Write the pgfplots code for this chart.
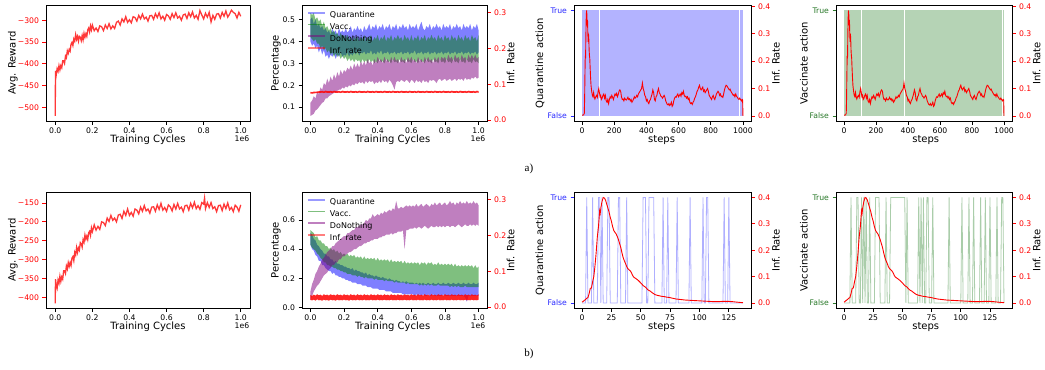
\documentclass[border=0pt]{standalone}
\usepackage{fontspec}
\setmainfont{DejaVu Sans}
\newfontfamily\capfont{Liberation Serif}
\usepackage{pgfplots}
\usepackage{pgfplotstable}
\usepgfplotslibrary{fillbetween}
\pgfplotsset{compat=1.18}

\definecolor{rline}{RGB}{255,45,45}
\definecolor{qblue}{RGB}{0,0,255}
\definecolor{vgreen}{RGB}{0,128,0}
\definecolor{dpurple}{RGB}{128,0,128}
\definecolor{qfill}{RGB}{179,179,255}
\definecolor{vfill}{RGB}{181,211,181}
\definecolor{qtick}{RGB}{40,40,255}
\definecolor{vtick}{RGB}{40,120,40}
\definecolor{qstep}{RGB}{175,175,255}
\definecolor{vstep}{RGB}{170,205,170}

\newcommand\tkf{\fontsize{7.7}{9}\selectfont}
\newcommand\lbf{\fontsize{10}{12}\selectfont}
\newcommand\lgf{\fontsize{8}{9.5}\selectfont}

\pgfplotsset{
 mpl/.style={
   scale only axis, anchor=south west,
   axis line style={line width=0.8pt,black},
   tick align=outside, major tick length=3.5pt,
   every tick/.style={black,line width=0.8pt},
   tick label style={font=\tkf},
   label style={font=\lbf},
   tick pos=left,
 },
 twinR/.style={
   scale only axis, anchor=south west,
   axis x line=none, axis y line*=right,
   axis line style={line width=0.8pt,black},
   tick align=outside, major tick length=3.5pt,
   every tick/.style={red,line width=0.8pt},
   tick label style={font=\tkf},
   yticklabel style={text=red},
   label style={font=\lbf},
 },
 xlab/.style={every axis x label/.style={at={(axis description cs:#1,-0.16)},anchor=center}},
 ylab/.style={every axis y label/.style={at={(axis description cs:#1,0.5)},rotate=90,anchor=center}},
}

\pgfplotstableread{
x y
0.000 -519
0.001 -416
0.005 -426
0.010 -411
0.015 -417
0.020 -404
0.025 -414
0.030 -404
0.035 -409
0.040 -393
0.045 -393
0.050 -399
0.055 -382
0.060 -386
0.065 -370
0.070 -376
0.075 -367
0.080 -371
0.085 -355
0.090 -351
0.095 -358
0.100 -343
0.105 -348
0.110 -333
0.115 -344
0.120 -337
0.125 -348
0.130 -337
0.135 -339
0.140 -347
0.145 -335
0.150 -345
0.155 -330
0.160 -339
0.165 -331
0.170 -337
0.175 -322
0.180 -318
0.185 -327
0.190 -313
0.195 -322
0.200 -311
0.21 -324
0.22 -318
0.23 -326
0.24 -313
0.25 -315
0.26 -324
0.27 -311
0.28 -319
0.29 -308
0.30 -320
0.31 -313
0.32 -319
0.33 -305
0.34 -302
0.35 -311
0.36 -297
0.37 -304
0.38 -292
0.39 -305
0.40 -299
0.41 -306
0.42 -292
0.43 -294
0.44 -302
0.45 -289
0.46 -297
0.47 -286
0.48 -297
0.49 -293
0.50 -302
0.51 -290
0.52 -289
0.53 -298
0.54 -285
0.55 -294
0.56 -283
0.57 -297
0.58 -291
0.59 -300
0.60 -287
0.61 -290
0.62 -298
0.63 -285
0.64 -294
0.65 -283
0.66 -295
0.67 -291
0.68 -300
0.69 -288
0.70 -286
0.71 -296
0.72 -283
0.73 -292
0.74 -281
0.75 -295
0.76 -289
0.77 -298
0.78 -278
0.79 -288
0.80 -297
0.81 -284
0.82 -293
0.83 -282
0.84 -304
0.85 -289
0.86 -298
0.87 -286
0.88 -285
0.89 -295
0.90 -282
0.91 -291
0.92 -279
0.93 -293
0.94 -286
0.95 -277
0.96 -282
0.97 -285
0.98 -295
0.99 -282
1.00 -291
}\rewA

\pgfplotstableread{
x y
0.000 -416
0.001 -352
0.005 -367
0.010 -376
0.015 -354
0.020 -363
0.025 -344
0.030 -358
0.035 -346
0.040 -352
0.045 -330
0.050 -330
0.055 -337
0.060 -317
0.065 -325
0.070 -308
0.075 -318
0.080 -308
0.085 -316
0.090 -296
0.095 -292
0.100 -303
0.105 -281
0.110 -288
0.115 -268
0.120 -281
0.125 -269
0.130 -275
0.135 -255
0.140 -258
0.145 -267
0.150 -247
0.155 -254
0.160 -235
0.165 -246
0.170 -238
0.175 -247
0.180 -229
0.185 -225
0.190 -236
0.195 -216
0.200 -226
0.21 -208
0.22 -222
0.23 -212
0.24 -220
0.25 -200
0.26 -202
0.27 -210
0.28 -190
0.29 -199
0.30 -183
0.31 -196
0.32 -190
0.33 -200
0.34 -182
0.35 -180
0.36 -191
0.37 -172
0.38 -183
0.39 -166
0.40 -183
0.41 -175
0.42 -185
0.43 -166
0.44 -169
0.45 -179
0.46 -161
0.47 -172
0.48 -157
0.49 -171
0.50 -166
0.51 -177
0.52 -161
0.53 -160
0.54 -172
0.55 -155
0.56 -167
0.57 -151
0.58 -169
0.59 -162
0.60 -172
0.61 -155
0.62 -160
0.63 -171
0.64 -154
0.65 -166
0.66 -151
0.67 -166
0.68 -161
0.69 -173
0.70 -157
0.71 -156
0.72 -169
0.73 -151
0.74 -163
0.75 -148
0.76 -165
0.77 -157
0.78 -167
0.79 -149
0.80 -153
0.805 -137
0.81 -165
0.82 -149
0.83 -162
0.84 -149
0.85 -165
0.86 -160
0.87 -173
0.88 -157
0.89 -156
0.90 -170
0.91 -153
0.92 -165
0.93 -150
0.94 -168
0.95 -162
0.96 -173
0.97 -156
0.98 -161
0.99 -172
1.00 -155
}\rewB

\pgfplotstableread{
x qu ql vu vl du dl ru rl
0.00 0.50 0.40 0.53 0.42 0.12 0.060 0.0790 0.0740
0.01 0.51 0.38 0.52 0.41 0.13 0.065 0.0780 0.0735
0.02 0.48 0.39 0.53 0.40 0.15 0.070 0.0795 0.0745
0.03 0.50 0.37 0.50 0.41 0.14 0.085 0.0790 0.0750
0.04 0.47 0.38 0.51 0.39 0.17 0.090 0.0800 0.0750
0.05 0.48 0.35 0.49 0.39 0.16 0.100 0.0805 0.0755
0.06 0.46 0.37 0.50 0.37 0.19 0.110 0.0805 0.0760
0.07 0.47 0.34 0.47 0.38 0.18 0.120 0.0815 0.0765
0.08 0.45 0.36 0.49 0.36 0.21 0.125 0.0800 0.0755
0.09 0.46 0.33 0.46 0.37 0.20 0.140 0.0820 0.0770
0.10 0.44 0.34 0.47 0.35 0.23 0.140 0.0810 0.0760
0.11 0.45 0.32 0.45 0.36 0.21 0.150 0.0805 0.0760
0.12 0.43 0.34 0.46 0.34 0.24 0.155 0.0815 0.0765
0.13 0.46 0.33 0.44 0.35 0.22 0.160 0.0800 0.0755
0.14 0.44 0.345 0.45 0.33 0.25 0.165 0.0820 0.0770
0.15 0.45 0.32 0.43 0.345 0.23 0.170 0.0810 0.0760
0.16 0.43 0.34 0.44 0.33 0.26 0.175 0.0805 0.0760
0.17 0.46 0.33 0.42 0.34 0.24 0.180 0.0815 0.0765
0.18 0.44 0.35 0.44 0.32 0.27 0.180 0.0800 0.0755
0.19 0.45 0.33 0.42 0.335 0.25 0.190 0.0820 0.0770
0.20 0.44 0.34 0.43 0.32 0.27 0.185 0.0810 0.0760
0.21 0.46 0.335 0.41 0.33 0.26 0.195 0.0805 0.0760
0.22 0.44 0.35 0.43 0.31 0.28 0.190 0.0815 0.0765
0.23 0.45 0.33 0.41 0.325 0.27 0.200 0.0800 0.0755
0.24 0.47 0.345 0.42 0.31 0.29 0.195 0.0820 0.0770
0.25 0.44 0.335 0.40 0.32 0.27 0.205 0.0810 0.0760
0.26 0.46 0.35 0.42 0.305 0.30 0.200 0.0805 0.0760
0.27 0.45 0.34 0.41 0.32 0.28 0.210 0.0815 0.0765
0.28 0.47 0.355 0.42 0.31 0.30 0.205 0.0800 0.0755
0.29 0.45 0.335 0.40 0.315 0.28 0.215 0.0820 0.0770
0.30 0.46 0.35 0.42 0.30 0.31 0.210 0.0810 0.0760
0.31 0.44 0.345 0.41 0.32 0.29 0.215 0.0805 0.0760
0.32 0.47 0.355 0.43 0.305 0.31 0.205 0.0815 0.0765
0.33 0.45 0.34 0.40 0.315 0.29 0.220 0.0800 0.0755
0.34 0.46 0.35 0.42 0.30 0.32 0.210 0.0820 0.0770
0.35 0.48 0.345 0.41 0.32 0.30 0.220 0.0810 0.0760
0.36 0.45 0.36 0.43 0.305 0.31 0.215 0.0805 0.0760
0.37 0.47 0.34 0.40 0.315 0.29 0.220 0.0815 0.0765
0.38 0.46 0.35 0.42 0.30 0.32 0.205 0.0800 0.0755
0.39 0.48 0.34 0.41 0.31 0.30 0.215 0.0820 0.0770
0.40 0.45 0.355 0.43 0.30 0.33 0.210 0.0810 0.0760
0.41 0.47 0.345 0.40 0.32 0.31 0.220 0.0805 0.0760
0.42 0.46 0.36 0.42 0.305 0.32 0.210 0.0815 0.0765
0.43 0.48 0.34 0.41 0.31 0.30 0.225 0.0800 0.0755
0.44 0.45 0.35 0.43 0.30 0.33 0.215 0.0820 0.0770
0.45 0.47 0.345 0.40 0.32 0.31 0.220 0.0810 0.0760
0.46 0.46 0.355 0.42 0.305 0.32 0.210 0.0805 0.0760
0.47 0.48 0.34 0.41 0.31 0.30 0.225 0.0815 0.0765
0.48 0.45 0.35 0.43 0.30 0.33 0.215 0.0800 0.0755
0.49 0.47 0.345 0.40 0.32 0.31 0.200 0.0820 0.0770
0.50 0.46 0.355 0.42 0.305 0.33 0.180 0.0810 0.0760
0.51 0.48 0.34 0.41 0.31 0.31 0.215 0.0805 0.0760
0.52 0.45 0.35 0.43 0.30 0.32 0.220 0.0815 0.0765
0.53 0.47 0.345 0.41 0.32 0.30 0.215 0.0800 0.0755
0.54 0.46 0.355 0.42 0.305 0.33 0.225 0.0820 0.0770
0.55 0.48 0.34 0.40 0.31 0.31 0.220 0.0810 0.0760
0.56 0.46 0.35 0.43 0.30 0.32 0.215 0.0805 0.0760
0.57 0.47 0.345 0.41 0.32 0.30 0.225 0.0815 0.0765
0.58 0.45 0.355 0.42 0.305 0.33 0.220 0.0800 0.0755
0.59 0.48 0.34 0.40 0.31 0.31 0.210 0.0820 0.0770
0.60 0.46 0.35 0.43 0.30 0.33 0.225 0.0810 0.0760
0.61 0.47 0.345 0.40 0.32 0.31 0.220 0.0805 0.0760
0.62 0.46 0.36 0.42 0.305 0.32 0.210 0.0815 0.0765
0.63 0.48 0.34 0.41 0.31 0.30 0.225 0.0800 0.0755
0.64 0.45 0.35 0.43 0.30 0.33 0.215 0.0820 0.0770
0.65 0.47 0.345 0.40 0.32 0.31 0.220 0.0810 0.0760
0.66 0.49 0.355 0.42 0.305 0.32 0.210 0.0805 0.0760
0.67 0.46 0.34 0.41 0.31 0.30 0.225 0.0815 0.0765
0.68 0.45 0.35 0.43 0.30 0.33 0.215 0.0800 0.0755
0.69 0.47 0.345 0.40 0.32 0.31 0.220 0.0820 0.0770
0.70 0.46 0.355 0.42 0.305 0.33 0.210 0.0810 0.0760
0.71 0.48 0.34 0.41 0.31 0.31 0.225 0.0805 0.0760
0.72 0.45 0.35 0.43 0.30 0.32 0.220 0.0815 0.0765
0.73 0.47 0.345 0.41 0.32 0.30 0.225 0.0800 0.0755
0.74 0.46 0.355 0.42 0.305 0.33 0.220 0.0820 0.0770
0.75 0.48 0.34 0.40 0.31 0.31 0.210 0.0810 0.0760
0.76 0.46 0.35 0.43 0.30 0.33 0.225 0.0805 0.0760
0.77 0.47 0.345 0.41 0.32 0.31 0.230 0.0815 0.0765
0.78 0.45 0.355 0.42 0.305 0.33 0.220 0.0800 0.0755
0.79 0.48 0.34 0.40 0.31 0.32 0.225 0.0820 0.0770
0.80 0.46 0.35 0.43 0.30 0.33 0.230 0.0810 0.0760
0.81 0.47 0.345 0.41 0.32 0.31 0.220 0.0805 0.0760
0.82 0.46 0.355 0.42 0.305 0.34 0.225 0.0815 0.0765
0.83 0.48 0.34 0.40 0.31 0.32 0.230 0.0800 0.0755
0.84 0.45 0.35 0.43 0.30 0.33 0.220 0.0820 0.0770
0.85 0.47 0.345 0.41 0.32 0.31 0.225 0.0810 0.0760
0.86 0.46 0.355 0.42 0.305 0.34 0.230 0.0805 0.0760
0.87 0.48 0.34 0.40 0.31 0.32 0.220 0.0815 0.0765
0.88 0.46 0.35 0.43 0.30 0.33 0.230 0.0800 0.0755
0.89 0.47 0.345 0.41 0.32 0.31 0.225 0.0820 0.0770
0.90 0.45 0.355 0.42 0.305 0.34 0.230 0.0810 0.0760
0.91 0.48 0.34 0.40 0.31 0.32 0.220 0.0805 0.0760
0.92 0.46 0.35 0.43 0.30 0.33 0.235 0.0815 0.0765
0.93 0.47 0.345 0.41 0.32 0.31 0.225 0.0800 0.0755
0.94 0.46 0.355 0.42 0.305 0.34 0.230 0.0820 0.0770
0.95 0.48 0.34 0.40 0.31 0.32 0.225 0.0810 0.0760
0.96 0.45 0.35 0.43 0.30 0.34 0.235 0.0805 0.0760
0.97 0.47 0.345 0.41 0.32 0.32 0.230 0.0815 0.0765
0.98 0.46 0.355 0.42 0.305 0.34 0.240 0.0800 0.0755
0.99 0.48 0.34 0.40 0.31 0.32 0.230 0.0820 0.0770
1.00 0.45 0.35 0.43 0.30 0.33 0.235 0.0810 0.0760
}\pctA

\pgfplotstableread{
x qu ql vu vl du dl ru rl
0.00 0.51 0.43 0.53 0.43 0.11 0.05 0.034 0.020
0.01 0.50 0.40 0.52 0.41 0.16 0.08 0.031 0.019
0.02 0.47 0.39 0.51 0.40 0.19 0.11 0.035 0.021
0.03 0.46 0.36 0.48 0.39 0.23 0.13 0.032 0.018
0.04 0.43 0.35 0.49 0.37 0.25 0.15 0.036 0.022
0.05 0.42 0.32 0.46 0.36 0.28 0.16 0.033 0.019
0.06 0.40 0.32 0.46 0.34 0.30 0.18 0.035 0.020
0.07 0.39 0.29 0.44 0.33 0.33 0.20 0.031 0.018
0.08 0.37 0.29 0.44 0.31 0.34 0.22 0.036 0.021
0.09 0.37 0.27 0.42 0.31 0.36 0.23 0.033 0.019
0.10 0.35 0.26 0.42 0.29 0.38 0.24 0.035 0.020
0.11 0.35 0.25 0.40 0.29 0.39 0.26 0.032 0.018
0.12 0.33 0.25 0.41 0.28 0.40 0.27 0.036 0.021
0.13 0.33 0.23 0.39 0.28 0.42 0.29 0.033 0.019
0.14 0.31 0.24 0.40 0.27 0.42 0.29 0.035 0.020
0.15 0.32 0.22 0.38 0.27 0.44 0.31 0.032 0.018
0.16 0.30 0.22 0.39 0.26 0.45 0.31 0.036 0.021
0.17 0.30 0.21 0.37 0.26 0.46 0.33 0.033 0.019
0.18 0.29 0.21 0.38 0.25 0.47 0.33 0.035 0.020
0.19 0.29 0.20 0.36 0.25 0.48 0.35 0.032 0.019
0.20 0.28 0.20 0.37 0.24 0.49 0.35 0.036 0.021
0.21 0.28 0.19 0.36 0.24 0.49 0.36 0.033 0.019
0.22 0.27 0.19 0.37 0.23 0.51 0.37 0.035 0.020
0.23 0.27 0.18 0.35 0.23 0.51 0.38 0.032 0.018
0.24 0.26 0.18 0.36 0.23 0.52 0.38 0.036 0.021
0.25 0.27 0.17 0.35 0.22 0.53 0.39 0.033 0.019
0.26 0.25 0.17 0.36 0.22 0.53 0.40 0.035 0.020
0.27 0.26 0.17 0.34 0.22 0.55 0.40 0.032 0.019
0.28 0.25 0.16 0.35 0.21 0.55 0.41 0.036 0.021
0.29 0.25 0.16 0.34 0.22 0.56 0.42 0.033 0.019
0.30 0.24 0.16 0.35 0.21 0.57 0.42 0.035 0.020
0.31 0.24 0.15 0.33 0.21 0.57 0.43 0.032 0.019
0.32 0.23 0.15 0.35 0.20 0.58 0.44 0.036 0.021
0.33 0.24 0.15 0.33 0.21 0.60 0.44 0.033 0.019
0.34 0.22 0.14 0.34 0.20 0.59 0.45 0.035 0.020
0.35 0.23 0.14 0.33 0.20 0.61 0.45 0.032 0.019
0.36 0.22 0.14 0.34 0.20 0.61 0.46 0.036 0.021
0.37 0.22 0.13 0.33 0.20 0.64 0.46 0.033 0.019
0.38 0.21 0.13 0.34 0.19 0.62 0.47 0.035 0.020
0.39 0.22 0.13 0.32 0.20 0.63 0.47 0.032 0.019
0.40 0.21 0.13 0.34 0.19 0.64 0.47 0.036 0.021
0.41 0.21 0.12 0.32 0.19 0.63 0.48 0.033 0.019
0.42 0.20 0.12 0.33 0.19 0.65 0.48 0.035 0.020
0.43 0.21 0.12 0.32 0.19 0.64 0.49 0.032 0.019
0.44 0.20 0.12 0.33 0.18 0.66 0.49 0.036 0.021
0.45 0.20 0.11 0.32 0.19 0.65 0.50 0.033 0.019
0.46 0.19 0.11 0.33 0.18 0.66 0.50 0.035 0.020
0.47 0.20 0.11 0.31 0.18 0.67 0.50 0.032 0.019
0.48 0.19 0.11 0.33 0.18 0.66 0.51 0.036 0.021
0.49 0.19 0.10 0.31 0.18 0.68 0.50 0.033 0.019
0.50 0.18 0.10 0.32 0.17 0.67 0.51 0.035 0.020
0.51 0.19 0.10 0.31 0.18 0.73 0.51 0.032 0.019
0.52 0.18 0.10 0.32 0.17 0.68 0.52 0.036 0.021
0.53 0.18 0.10 0.31 0.17 0.68 0.52 0.033 0.019
0.54 0.17 0.10 0.32 0.17 0.69 0.52 0.035 0.020
0.55 0.18 0.09 0.30 0.17 0.68 0.53 0.032 0.019
0.56 0.17 0.09 0.32 0.17 0.69 0.40 0.036 0.021
0.57 0.18 0.09 0.30 0.16 0.70 0.53 0.033 0.019
0.58 0.17 0.09 0.31 0.17 0.69 0.53 0.035 0.020
0.59 0.17 0.09 0.30 0.16 0.70 0.54 0.032 0.019
0.60 0.17 0.09 0.31 0.16 0.69 0.54 0.036 0.021
0.61 0.17 0.09 0.30 0.16 0.70 0.54 0.033 0.019
0.62 0.16 0.08 0.31 0.16 0.69 0.55 0.035 0.020
0.63 0.17 0.09 0.30 0.16 0.71 0.54 0.032 0.019
0.64 0.16 0.08 0.31 0.16 0.69 0.55 0.036 0.021
0.65 0.17 0.09 0.29 0.15 0.70 0.55 0.033 0.019
0.66 0.16 0.08 0.31 0.16 0.71 0.54 0.035 0.020
0.67 0.17 0.09 0.30 0.15 0.69 0.55 0.032 0.019
0.68 0.16 0.08 0.31 0.16 0.70 0.56 0.036 0.021
0.69 0.16 0.08 0.29 0.15 0.71 0.55 0.033 0.019
0.70 0.17 0.09 0.31 0.16 0.70 0.54 0.035 0.020
0.71 0.16 0.08 0.30 0.15 0.69 0.55 0.032 0.019
0.72 0.16 0.08 0.31 0.16 0.71 0.56 0.036 0.021
0.73 0.17 0.09 0.29 0.15 0.70 0.55 0.033 0.019
0.74 0.16 0.08 0.30 0.15 0.72 0.55 0.035 0.020
0.75 0.16 0.08 0.29 0.15 0.70 0.56 0.032 0.019
0.76 0.17 0.08 0.31 0.16 0.71 0.55 0.036 0.021
0.77 0.16 0.08 0.29 0.15 0.72 0.56 0.033 0.019
0.78 0.16 0.08 0.30 0.15 0.70 0.55 0.035 0.020
0.79 0.17 0.09 0.29 0.15 0.71 0.56 0.032 0.019
0.80 0.16 0.08 0.30 0.15 0.72 0.55 0.036 0.021
0.81 0.16 0.08 0.29 0.15 0.70 0.56 0.033 0.019
0.82 0.17 0.08 0.30 0.15 0.71 0.56 0.035 0.020
0.83 0.16 0.08 0.29 0.14 0.73 0.55 0.032 0.019
0.84 0.16 0.08 0.30 0.15 0.71 0.56 0.036 0.021
0.85 0.17 0.08 0.28 0.14 0.72 0.56 0.033 0.019
0.86 0.16 0.08 0.30 0.15 0.70 0.55 0.035 0.020
0.87 0.16 0.08 0.28 0.14 0.72 0.56 0.032 0.019
0.88 0.17 0.08 0.29 0.15 0.71 0.57 0.036 0.021
0.89 0.16 0.08 0.28 0.14 0.73 0.56 0.033 0.019
0.90 0.16 0.08 0.29 0.14 0.71 0.55 0.035 0.020
0.91 0.17 0.08 0.28 0.14 0.72 0.56 0.032 0.019
0.92 0.16 0.07 0.29 0.15 0.71 0.57 0.036 0.021
0.93 0.16 0.04 0.28 0.14 0.73 0.56 0.033 0.019
0.94 0.17 0.08 0.29 0.14 0.71 0.56 0.035 0.020
0.95 0.16 0.08 0.28 0.14 0.72 0.57 0.032 0.019
0.96 0.16 0.08 0.29 0.14 0.71 0.56 0.036 0.021
0.97 0.17 0.08 0.27 0.14 0.73 0.57 0.033 0.019
0.98 0.16 0.08 0.29 0.14 0.71 0.56 0.035 0.020
0.99 0.16 0.08 0.27 0.14 0.72 0.57 0.032 0.019
1.00 0.17 0.08 0.28 0.14 0.70 0.56 0.036 0.021
}\pctB

\pgfplotstableread{
x y
0 0.003
5 0.003
10 0.004
14 0.01
16 0.06
18 0.15
20 0.22
22 0.21
24 0.30
26 0.36
28 0.3845
30 0.37
32 0.33
34 0.35
36 0.30
38 0.27
40 0.30
42 0.28
44 0.24
46 0.22
48 0.21
50 0.18
53 0.14
56 0.11
60 0.09
64 0.075
68 0.07
72 0.085
76 0.07
80 0.062
85 0.07
90 0.075
95 0.068
100 0.09
104 0.10
108 0.085
112 0.07
116 0.075
120 0.06
125 0.065
130 0.075
135 0.08
140 0.065
145 0.075
150 0.055
155 0.05
160 0.06
165 0.045
170 0.06
175 0.07
180 0.065
185 0.075
190 0.068
195 0.06
200 0.072
205 0.08
210 0.075
215 0.082
220 0.07
225 0.078
230 0.09
235 0.095
240 0.09
245 0.07
250 0.06
255 0.062
260 0.055
265 0.065
270 0.06
275 0.058
280 0.062
285 0.068
290 0.06
295 0.063
300 0.055
305 0.06
310 0.05
315 0.055
320 0.062
325 0.07
330 0.065
335 0.068
340 0.075
345 0.07
350 0.08
355 0.085
360 0.09
365 0.095
370 0.10
375 0.12
380 0.10
385 0.09
390 0.075
395 0.07
400 0.055
405 0.06
410 0.05
415 0.045
420 0.055
425 0.06
430 0.07
435 0.08
440 0.095
445 0.085
450 0.06
455 0.055
460 0.07
465 0.075
470 0.09
475 0.10
480 0.085
485 0.08
490 0.072
495 0.07
500 0.065
505 0.07
510 0.075
515 0.068
520 0.055
525 0.048
530 0.042
535 0.04
540 0.045
545 0.038
550 0.042
555 0.05
560 0.035
565 0.04
570 0.055
575 0.065
580 0.07
585 0.068
590 0.075
595 0.08
600 0.07
605 0.075
610 0.08
615 0.072
620 0.085
625 0.08
630 0.09
635 0.075
640 0.07
645 0.072
650 0.065
655 0.07
660 0.06
665 0.065
670 0.05
675 0.045
680 0.048
685 0.042
690 0.05
695 0.055
700 0.065
705 0.07
710 0.08
715 0.09
720 0.095
725 0.105
730 0.112
735 0.10
740 0.095
745 0.10
750 0.105
755 0.09
760 0.095
765 0.085
770 0.09
775 0.095
780 0.10
785 0.09
790 0.075
795 0.07
800 0.065
805 0.06
810 0.07
815 0.075
820 0.065
825 0.06
830 0.07
835 0.08
840 0.085
845 0.09
850 0.085
855 0.075
860 0.08
865 0.07
870 0.072
875 0.068
880 0.08
885 0.095
890 0.105
895 0.112
900 0.11
905 0.105
910 0.10
915 0.095
920 0.098
925 0.09
930 0.085
935 0.08
940 0.075
945 0.078
950 0.07
955 0.08
960 0.072
965 0.068
970 0.063
975 0.06
980 0.065
985 0.06
990 0.055
995 0.06
998 0.058
1000 0.0
}\infA

\pgfplotstableread{
x y
0 0.003
1 0.006
2 0.01
3 0.013
4 0.018
5 0.02
6 0.035
7 0.055
8 0.057
9 0.08
10 0.10
11 0.14
12 0.19
13 0.25
14 0.29
15 0.35
15.5 0.34
16 0.36
17 0.385
18 0.40
19 0.398
20 0.39
21 0.375
22 0.36
23 0.345
24 0.325
25 0.31
26 0.29
27 0.275
28 0.268
29 0.262
30 0.252
31 0.24
32 0.225
33 0.21
34 0.19
35 0.172
36 0.16
37 0.15
38 0.138
39 0.13
40 0.126
41 0.122
42 0.115
43 0.105
44 0.098
46 0.092
48 0.085
50 0.076
52 0.066
54 0.06
56 0.05
58 0.045
60 0.038
62 0.032
64 0.029
66 0.027
68 0.025
70 0.024
72 0.022
74 0.021
76 0.019
78 0.017
80 0.015
84 0.013
88 0.011
92 0.01
96 0.009
100 0.008
104 0.007
108 0.006
112 0.005
116 0.005
120 0.006
124 0.006
128 0.005
132 0.003
137 0.001
}\infB

\begin{document}
\begin{tikzpicture}
\path (0,0) rectangle (1045pt,369pt);

% ================= row a =================
\begin{axis}[mpl, at={(46pt,248pt)}, width=204pt, height=116pt,
  xmin=-0.05, xmax=1.05, ymin=-531.4, ymax=-265.7,
  xtick={0,0.2,0.4,0.6,0.8,1}, xticklabels={0.0,0.2,0.4,0.6,0.8,1.0},
  ytick={-500,-450,-400,-350,-300}, yticklabels={−500,−450,−400,−350,−300},
  ytick style={red}, yticklabel style={text=red},
  xlabel={Training Cycles}, ylabel={Avg. Reward}, xlab=0.5, ylab=-0.163]
\addplot[rline, line width=1.3pt, opacity=0.95] table[x=x,y=y] {\rewA};
\end{axis}

\begin{axis}[mpl, at={(302pt,248pt)}, width=185pt, height=116pt,
  xmin=-0.05, xmax=1.05, ymin=0.036, ymax=0.565,
  xtick={0,0.2,0.4,0.6,0.8,1}, xticklabels={0.0,0.2,0.4,0.6,0.8,1.0},
  ytick={0.1,0.2,0.3,0.4,0.5}, yticklabels={0.1,0.2,0.3,0.4,0.5},
  xlabel={Training Cycles}, ylabel={Percentage}, xlab=0.49, ylab=-0.14,
  legend style={at={(axis description cs:0.027,0.965)}, anchor=north west, draw=none, fill=none,
     font=\lgf, inner sep=0pt, row sep=0pt, column sep=3pt,
     nodes={inner sep=1pt, text height=7.5pt, text depth=2.2pt}},
  legend cell align=left,
  legend image code/.code={\draw[#1, line width=1.8pt] (0pt,2.5pt) -- (17pt,2.5pt);}]
\addlegendimage{qblue, opacity=0.4}
\addlegendentry{Quarantine}
\addlegendimage{vgreen, opacity=0.5}
\addlegendentry{Vacc.}
\addlegendimage{dpurple, opacity=0.5}
\addlegendentry{DoNothing}
\addlegendimage{red, opacity=0.5}
\addlegendentry{Inf. rate}
\addplot[name path=qu, draw=none] table[x=x,y=qu] {\pctA};
\addplot[name path=ql, draw=none] table[x=x,y=ql] {\pctA};
\addplot[fill=qblue, fill opacity=0.5, draw=none] fill between[of=qu and ql];
\addplot[name path=vu, draw=none] table[x=x,y=vu] {\pctA};
\addplot[name path=vl, draw=none] table[x=x,y=vl] {\pctA};
\addplot[fill=vgreen, fill opacity=0.5, draw=none] fill between[of=vu and vl];
\addplot[name path=du, draw=none] table[x=x,y=du] {\pctA};
\addplot[name path=dl, draw=none] table[x=x,y=dl] {\pctA};
\addplot[fill=dpurple, fill opacity=0.5, draw=none] fill between[of=du and dl];
\end{axis}
\begin{axis}[twinR, at={(302pt,248pt)}, width=185pt, height=116pt,
  xmin=-0.05, xmax=1.05, ymin=-0.003, ymax=0.32,
  ytick={0,0.1,0.2,0.3}, yticklabels={0.0,0.1,0.2,0.3},
  ylabel={Inf. Rate}, ylab=1.128]
\addplot[name path=ru, draw=none] table[x=x,y=ru] {\pctA};
\addplot[name path=rl, draw=none] table[x=x,y=rl] {\pctA};
\addplot[fill=red, fill opacity=0.85, draw=none] fill between[of=ru and rl];
\end{axis}

\begin{axis}[mpl, at={(574pt,248pt)}, width=177pt, height=116pt,
  xmin=-50, xmax=1050, ymin=-0.05, ymax=1.05,
  xtick={0,200,400,600,800,1000}, xticklabels={0,200,400,600,800,1000},
  ytick={0,1}, yticklabels={False,True},
  ytick style={qtick}, yticklabel style={text=qtick},
  xlabel={steps}, ylabel={Quarantine action}, xlab=0.495, ylab=-0.192]
\addplot[fill=qfill, draw=none] coordinates {(0,0) (0,1) (107,1) (107,0)};
\addplot[fill=qfill, draw=none] coordinates {(110,0) (110,1) (378,1) (378,0)};
\addplot[fill=qfill, draw=none] coordinates {(381,0) (381,1) (978,1) (978,0)};
\addplot[fill=qfill, draw=none] coordinates {(981,0) (981,1) (1000,1) (1000,0)};
\end{axis}
\begin{axis}[twinR, at={(574pt,248pt)}, width=177pt, height=116pt,
  xmin=-50, xmax=1050, ymin=-0.0192, ymax=0.4037,
  ytick={0,0.1,0.2,0.3,0.4}, yticklabels={0.0,0.1,0.2,0.3,0.4},
  ylabel={Inf. Rate}, ylab=1.14]
\addplot[red, line width=0.9pt] table[x=x,y=y] {\infA};
\end{axis}

\begin{axis}[mpl, at={(836pt,248pt)}, width=176pt, height=116pt,
  xmin=-50, xmax=1050, ymin=-0.05, ymax=1.05,
  xtick={0,200,400,600,800,1000}, xticklabels={0,200,400,600,800,1000},
  ytick={0,1}, yticklabels={False,True},
  ytick style={vtick}, yticklabel style={text=vtick},
  xlabel={steps}, ylabel={Vaccinate action}, xlab=0.51, ylab=-0.182]
\addplot[fill=vfill, draw=none] coordinates {(0,0) (0,1) (109,1) (109,0)};
\addplot[fill=vfill, draw=none] coordinates {(112,0) (112,1) (378,1) (378,0)};
\addplot[fill=vfill, draw=none] coordinates {(381,0) (381,1) (988,1) (988,0)};
\addplot[fill=vfill, draw=none] coordinates {(991,0) (991,1) (1000,1) (1000,0)};
\end{axis}
\begin{axis}[twinR, at={(836pt,248pt)}, width=176pt, height=116pt,
  xmin=-50, xmax=1050, ymin=-0.0192, ymax=0.4037,
  ytick={0,0.1,0.2,0.3,0.4}, yticklabels={0.0,0.1,0.2,0.3,0.4},
  ylabel={Inf. Rate}, ylab=1.14]
\addplot[red, line width=0.9pt] table[x=x,y=y] {\infA};
\end{axis}

\node[font=\capfont\fontsize{11}{13}\selectfont] at (529pt,200pt) {a)};
\node[font=\tkf] at (242pt,231pt) {1e6};
\node[font=\tkf] at (478pt,231pt) {1e6};

% ================= row b =================
\begin{axis}[mpl, at={(46pt,61pt)}, width=204pt, height=116pt,
  xmin=-0.05, xmax=1.05, ymin=-429, ymax=-121.5,
  xtick={0,0.2,0.4,0.6,0.8,1}, xticklabels={0.0,0.2,0.4,0.6,0.8,1.0},
  ytick={-400,-350,-300,-250,-200,-150}, yticklabels={−400,−350,−300,−250,−200,−150},
  ytick style={red}, yticklabel style={text=red},
  xlabel={Training Cycles}, ylabel={Avg. Reward}, xlab=0.5, ylab=-0.163]
\addplot[rline, line width=1.3pt, opacity=0.95] table[x=x,y=y] {\rewB};
\end{axis}

\begin{axis}[mpl, at={(302pt,61pt)}, width=185pt, height=116pt,
  xmin=-0.05, xmax=1.05, ymin=-0.005, ymax=0.79,
  xtick={0,0.2,0.4,0.6,0.8,1}, xticklabels={0.0,0.2,0.4,0.6,0.8,1.0},
  ytick={0,0.2,0.4,0.6}, yticklabels={0.0,0.2,0.4,0.6},
  xlabel={Training Cycles}, ylabel={Percentage}, xlab=0.49, ylab=-0.14,
  legend style={at={(axis description cs:0.027,0.965)}, anchor=north west, draw=none, fill=none,
     font=\lgf, inner sep=0pt, row sep=0pt, column sep=3pt,
     nodes={inner sep=1pt, text height=7.5pt, text depth=2.2pt}},
  legend cell align=left,
  legend image code/.code={\draw[#1, line width=1.8pt] (0pt,2.5pt) -- (17pt,2.5pt);}]
\addlegendimage{qblue, opacity=0.4}
\addlegendentry{Quarantine}
\addlegendimage{vgreen, opacity=0.5}
\addlegendentry{Vacc.}
\addlegendimage{dpurple, opacity=0.5}
\addlegendentry{DoNothing}
\addlegendimage{red, opacity=0.5}
\addlegendentry{Inf. rate}
\addplot[name path=qu, draw=none] table[x=x,y=qu] {\pctB};
\addplot[name path=ql, draw=none] table[x=x,y=ql] {\pctB};
\addplot[fill=qblue, fill opacity=0.5, draw=none] fill between[of=qu and ql];
\addplot[name path=vu, draw=none] table[x=x,y=vu] {\pctB};
\addplot[name path=vl, draw=none] table[x=x,y=vl] {\pctB};
\addplot[fill=vgreen, fill opacity=0.5, draw=none] fill between[of=vu and vl];
\addplot[name path=du, draw=none] table[x=x,y=du] {\pctB};
\addplot[name path=dl, draw=none] table[x=x,y=dl] {\pctB};
\addplot[fill=dpurple, fill opacity=0.5, draw=none] fill between[of=du and dl];
\end{axis}
\begin{axis}[twinR, at={(302pt,61pt)}, width=185pt, height=116pt,
  xmin=-0.05, xmax=1.05, ymin=-0.003, ymax=0.32,
  ytick={0,0.1,0.2,0.3}, yticklabels={0.0,0.1,0.2,0.3},
  ylabel={Inf. Rate}, ylab=1.128]
\addplot[name path=ru, draw=none] table[x=x,y=ru] {\pctB};
\addplot[name path=rl, draw=none] table[x=x,y=rl] {\pctB};
\addplot[fill=red, fill opacity=0.85, draw=none] fill between[of=ru and rl];
\end{axis}

\begin{axis}[mpl, at={(574pt,61pt)}, width=177pt, height=116pt,
  xmin=-6.85, xmax=143.85, ymin=-0.05, ymax=1.05,
  xtick={0,25,50,75,100,125}, xticklabels={0,25,50,75,100,125},
  ytick={0,1}, yticklabels={False,True},
  ytick style={qtick}, yticklabel style={text=qtick},
  xlabel={steps}, ylabel={Quarantine action}, xlab=0.495, ylab=-0.192]
\addplot[qstep, line width=0.8pt] coordinates {(0,0) (3,0) (4,1) (5,0) (8,0) (9,1) (10,0) (13,0) (14,1) (15,1) (16,0) (17,1) (18,0) (21,0) (22,1) (23,1) (24,0) (30,0) (31,1) (32,1) (33,0) (37,0) (38,1) (39,0) (51,0) (52,1) (54,1) (55,0) (56,0) (57,1) (61,1) (62,0) (68,0) (69,1) (70,0) (72,0) (73,1) (74,0) (80,0) (81,1) (82,0) (91,0) (92,1) (93,0) (102,0) (103,1) (104,0) (105,0) (106,1) (107,1) (108,0) (120,0) (121,1) (122,0) (124,0) (125,1) (126,0) (137,0)};
\end{axis}
\begin{axis}[twinR, at={(574pt,61pt)}, width=177pt, height=116pt,
  xmin=-6.85, xmax=143.85, ymin=-0.02, ymax=0.42,
  ytick={0,0.1,0.2,0.3,0.4}, yticklabels={0.0,0.1,0.2,0.3,0.4},
  ylabel={Inf. Rate}, ylab=1.14]
\addplot[red, line width=0.9pt] table[x=x,y=y] {\infB};
\end{axis}

\begin{axis}[mpl, at={(836pt,61pt)}, width=176pt, height=116pt,
  xmin=-6.85, xmax=143.85, ymin=-0.05, ymax=1.05,
  xtick={0,25,50,75,100,125}, xticklabels={0,25,50,75,100,125},
  ytick={0,1}, yticklabels={False,True},
  ytick style={vtick}, yticklabel style={text=vtick},
  xlabel={steps}, ylabel={Vaccinate action}, xlab=0.51, ylab=-0.182]
\addplot[vstep, line width=0.8pt] coordinates {(0,0) (5,0) (6,1) (7,0) (10,0) (11,1) (12,1) (13,0) (14,0) (15,1) (16,0) (17,1) (18,0) (19,1) (20,0) (21,0) (22,1) (23,0) (26,0) (27,1) (30,1) (31,0) (35,0) (36,1) (37,0) (39,0) (40,1) (52,1) (53,0) (54,1) (55,0) (63,0) (64,1) (65,0) (66,1) (67,0) (68,1) (69,0) (70,0) (71,1) (72,1) (73,0) (75,0) (76,1) (77,0) (89,0) (90,1) (91,0) (100,0) (101,1) (102,0) (106,0) (107,1) (108,0) (110,0) (111,1) (112,0) (116,0) (117,1) (118,0) (120,0) (121,1) (122,0) (124,0) (125,1) (126,0) (130,0) (131,1) (132,0) (134,0) (135,1) (136,1) (137,0)};
\end{axis}
\begin{axis}[twinR, at={(836pt,61pt)}, width=176pt, height=116pt,
  xmin=-6.85, xmax=143.85, ymin=-0.02, ymax=0.42,
  ytick={0,0.1,0.2,0.3,0.4}, yticklabels={0.0,0.1,0.2,0.3,0.4},
  ylabel={Inf. Rate}, ylab=1.14]
\addplot[red, line width=0.9pt] table[x=x,y=y] {\infB};
\end{axis}

\node[font=\capfont\fontsize{11}{13}\selectfont] at (529pt,15pt) {b)};
\node[font=\tkf] at (242pt,44pt) {1e6};
\node[font=\tkf] at (478pt,44pt) {1e6};
\end{tikzpicture}
\end{document}
